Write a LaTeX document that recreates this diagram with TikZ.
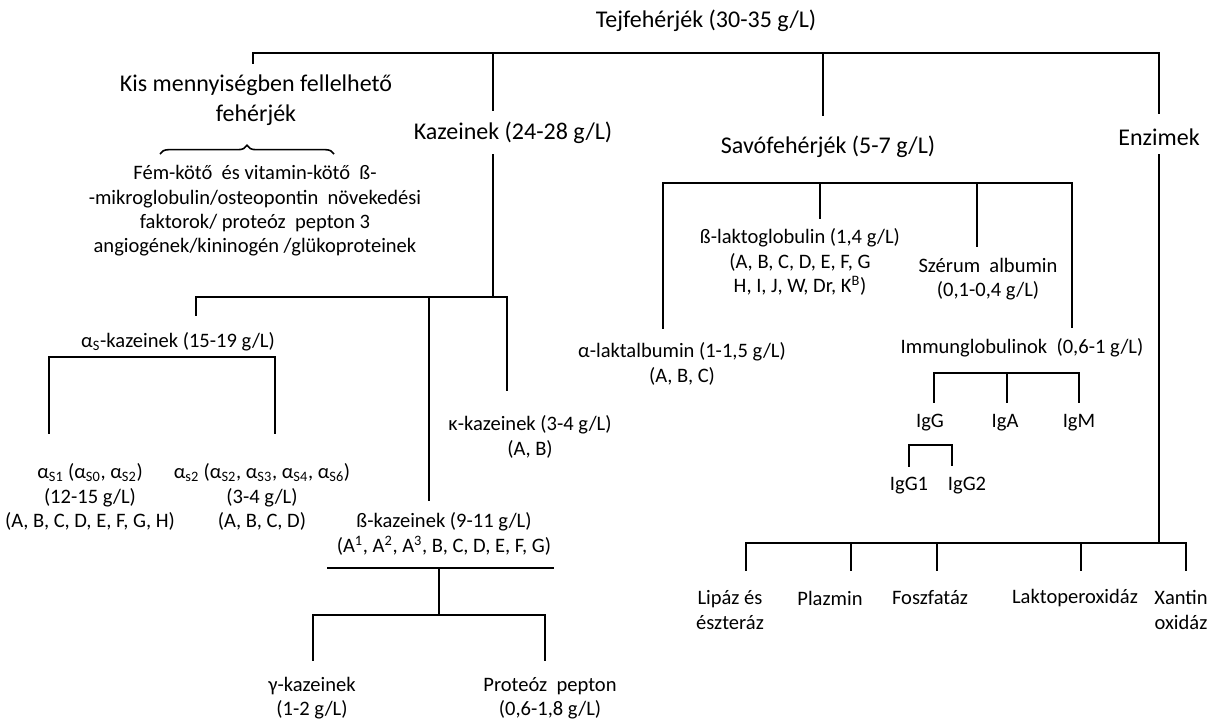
\documentclass[tikz,border=0pt]{standalone}
\usepackage{fontspec}
\setmainfont{Carlito}
\usetikzlibrary{decorations.pathreplacing}
\begin{document}
\begin{tikzpicture}[x=0.75pt,y=-0.75pt,
  big/.style={font=\fontsize{18}{22.5}\selectfont, align=center, inner sep=0pt},
  small/.style={font=\fontsize{15.4}{18.3}\selectfont, align=center, inner sep=0pt},
  ln/.style={line width=1.7pt, line cap=rect},
  thinln/.style={line width=1.2pt, line cap=rect},
  bracedeco/.style={decorate, decoration={brace, amplitude=6.5pt}, line width=1.2pt}]
\useasboundingbox (0,0) rectangle (1219,722);

% ---------- text nodes ----------
\node[big] (tej) at (706,21) {Tejfehérjék (30-35 g/L)};
\node[big] (kis) at (256,100) {Kis mennyiségben fellelhető\\fehérjék};
\node[small] (fem) at (255,211) {Fém-kötő\ \ és vitamin-kötő\ \ ß-\\-mikroglobulin/osteopontin\ \ növekedési\\faktorok/\ proteóz\ \ pepton 3\\angiogének/kininogén /glükoproteinek};
\node[big] (kaz) at (513,133) {Kazeinek (24-28 g/L)};
\node[big] (savo) at (828,147) {Savófehérjék (5-7 g/L)};
\node[big] (enz) at (1159,137) {Enzimek};

\node[small] (aska) at (178,342) {α\textsubscript{S}-kazeinek (15-19 g/L)};
\node[small] (as1) at (90,497) {α\textsubscript{S1} (α\textsubscript{S0}, α\textsubscript{S2})\\(12-15 g/L)\\(A, B, C, D, E, F, G, H)};
\node[small] (as2) at (262,497) {α\textsubscript{s2} (α\textsubscript{S2}, α\textsubscript{S3}, α\textsubscript{S4}, α\textsubscript{S6})\\(3-4 g/L)\\(A, B, C, D)};
\node[small] (kkaz) at (530,437) {κ-kazeinek (3-4 g/L)\\(A, B)};
\node[small] (bkaz) at (444,534) {ß-kazeinek (9-11 g/L)\\(A\textsuperscript{1}, A\textsuperscript{2}, A\textsuperscript{3}, B, C, D, E, F, G)};
\node[small] (gkaz) at (312,698) {γ-kazeinek\\(1-2 g/L)};
\node[small] (prot) at (550,698) {Proteóz\ \ pepton\\(0,6-1,8 g/L)};

\node[small] (blak) at (800,262) {ß-laktoglobulin (1,4 g/L)\\(A, B, C, D, E, F, G\\H, I, J, W, Dr, K\textsuperscript{B})};
\node[small] (szer) at (988,279) {Szérum\ \ albumin\\(0,1-0,4 g/L)};
\node[small] (alak) at (682,364) {α-laktalbumin (1-1,5 g/L)\\(A, B, C)};
\node[small] (imm) at (1022,348) {Immunglobulinok\ \ (0,6-1 g/L)};
\node[small] (igg) at (930,423) {IgG};
\node[small] (iga) at (1005,423) {IgA};
\node[small] (igm) at (1079,423) {IgM};
\node[small] (igg1) at (909,486) {IgG1};
\node[small] (igg2) at (967,486) {IgG2};

\node[small] (lip) at (730,610) {Lipáz és\\észteráz};
\node[small] (plaz) at (830,598) {Plazmin};
\node[small] (fosz) at (930,598) {Foszfatáz};
\node[small] (lakp) at (1075,598) {Laktoperoxidáz};
\node[small] (xan) at (1181,610) {Xantin\\oxidáz};

% ---------- brace ----------
\coordinate (brL) at (160,154);
\coordinate (brR) at (334,154);
\draw[bracedeco] (brL) -- (brR);

% ---------- top level ----------
\coordinate (topL) at (253,53);
\coordinate (topR) at (1159,53);
\coordinate (kisIn) at (253,63);
\coordinate (kazIn) at (493,110);
\coordinate (savoIn) at (823,115);
\coordinate (enzIn) at (1159,113);
\draw[ln] (topL) -- (topR);
\draw[ln] (kisIn) -- (kisIn |- topL);
\draw[ln] (kazIn) -- (kazIn |- topL);
\draw[ln] (savoIn) -- (savoIn |- topL);
\draw[ln] (enzIn) -- (enzIn |- topL);

% ---------- caseins ----------
\coordinate (kazOut) at (493,155);
\coordinate (kbL) at (196,297);
\coordinate (kbR) at (507,297);
\coordinate (askaIn) at (196,315);
\coordinate (bkazIn) at (429,500);
\coordinate (kkazIn) at (507,390);
\draw[ln] (kazOut) -- (kazOut |- kbL);
\draw[ln] (kbL) -- (kbR);
\draw[ln] (askaIn) -- (askaIn |- kbL);
\draw[ln] (bkazIn) -- (bkazIn |- kbL);
\draw[ln] (kkazIn) -- (kkazIn |- kbL);

\coordinate (abL) at (49,357);
\coordinate (abR) at (275,357);
\coordinate (as1In) at (49,433);
\coordinate (as2In) at (275,433);
\draw[ln] (abL) -- (abR);
\draw[ln] (as1In) -- (as1In |- abL);
\draw[ln] (as2In) -- (as2In |- abL);

\coordinate (bbL) at (328,568);
\coordinate (bbR) at (553,568);
\coordinate (bbMid) at (439,568);
\coordinate (lbL) at (313,615);
\coordinate (lbR) at (545,615);
\coordinate (gkazIn) at (313,660);
\coordinate (protIn) at (545,660);
\draw[thinln] (bbL) -- (bbR);
\draw[ln] (bbMid) -- (bbMid |- lbL);
\draw[ln] (lbL) -- (lbR);
\draw[ln] (gkazIn) -- (gkazIn |- lbL);
\draw[ln] (protIn) -- (protIn |- lbL);

% ---------- whey proteins ----------
\coordinate (sbL) at (663,183);
\coordinate (sbR) at (1072,183);
\coordinate (alakIn) at (663,328);
\coordinate (blakIn) at (820,218);
\coordinate (szerIn) at (977,246);
\coordinate (immIn) at (1072,327);
\draw[ln] (sbL) -- (sbR);
\draw[thinln] (alakIn) -- (alakIn |- sbL);
\draw[thinln] (blakIn) -- (blakIn |- sbL);
\draw[ln] (szerIn) -- (szerIn |- sbL);
\draw[ln] (immIn) -- (immIn |- sbL);

\coordinate (ibL) at (934,373);
\coordinate (ibR) at (1079,373);
\coordinate (iggIn) at (934,402);
\coordinate (igaIn) at (1007,402);
\coordinate (igmIn) at (1079,402);
\draw[thinln] (ibL) -- (ibR);
\draw[thinln] (iggIn) -- (iggIn |- ibL);
\draw[thinln] (igaIn) -- (igaIn |- ibL);
\draw[thinln] (igmIn) -- (igmIn |- ibL);

\coordinate (gbL) at (909,445);
\coordinate (gbR) at (952,445);
\coordinate (igg1In) at (909,466);
\coordinate (igg2In) at (952,465);
\draw[thinln] (gbL) -- (gbR);
\draw[ln] (igg1In) -- (igg1In |- gbL);
\draw[thinln] (igg2In) -- (igg2In |- gbL);

% ---------- enzymes ----------
\coordinate (enzOut) at (1159,155);
\coordinate (ebL) at (746,543);
\coordinate (ebR) at (1186,543);
\coordinate (lipIn) at (746,570);
\coordinate (plazIn) at (851,570);
\coordinate (foszIn) at (937,570);
\coordinate (lakpIn) at (1081,570);
\coordinate (xanIn) at (1186,570);
\draw[ln] (enzOut) -- (enzOut |- ebL);
\draw[ln] (ebL) -- (ebR);
\draw[thinln] (lipIn) -- (lipIn |- ebL);
\draw[ln] (plazIn) -- (plazIn |- ebL);
\draw[thinln] (foszIn) -- (foszIn |- ebL);
\draw[thinln] (lakpIn) -- (lakpIn |- ebL);
\draw[ln] (xanIn) -- (xanIn |- ebL);
\end{tikzpicture}
\end{document}
